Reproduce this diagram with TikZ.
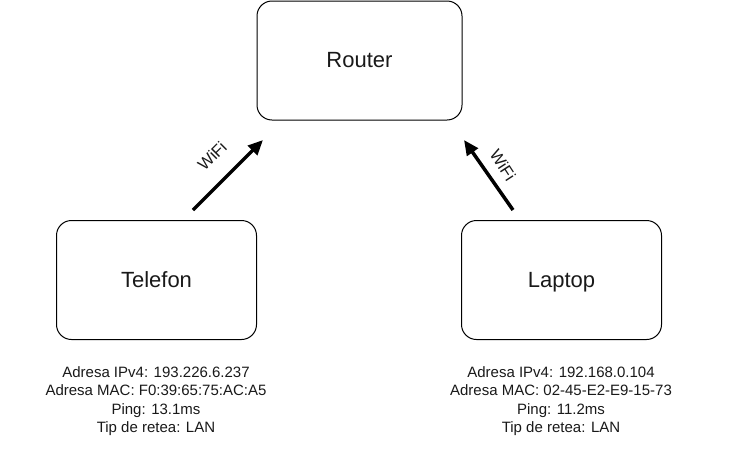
\documentclass[tikz,border=0pt]{standalone}
\usepackage{fontspec}
\setmainfont{Liberation Sans}
\usetikzlibrary{arrows.meta}
\begin{document}
\begin{tikzpicture}[x=1pt,y=-1pt,
  devbox/.style={draw=black, line width=1pt, rounded corners=15pt, minimum width=200pt, minimum height=119pt, inner sep=0pt, text height=16pt, text depth=2pt, font=\fontsize{22}{26}\selectfont, text=black!90},
  info/.style={align=center, font=\fontsize{15}{18.5}\selectfont, text=black!90, inner sep=0pt},
  link/.style={line width=3.5pt, -{Triangle[length=15pt,width=13pt]}},
  wifi/.style={font=\fontsize{16.5}{18}\selectfont, text=black!90, inner sep=0pt}]
\useasboundingbox (0,0) rectangle (742,461);
\node[devbox, minimum width=205pt] (router) at (359.5,60.5) {Router};
\node[devbox] (tel) at (156.5,280) {Telefon};
\node[devbox] (lap) at (561.5,280) {Laptop};
\node[info] (telinfo) at (156,401) {Adresa IPv4: 193.226.6.237\\Adresa MAC: F0:39:65:75:AC:A5\\Ping: 13.1ms\\Tip de retea: LAN};
\node[info] (lapinfo) at (561,401) {Adresa IPv4: 192.168.0.104\\Adresa MAC: 02-45-E2-E9-15-73\\Ping: 11.2ms\\Tip de retea: LAN};
\coordinate (t1) at (193,210);
\coordinate (h1) at (263,140);
\coordinate (t2) at (513,210);
\coordinate (h2) at (464,140);
\draw[link] (t1) -- (h1);
\draw[link] (t2) -- (h2);
\node[wifi, rotate=45] (w1) at (212,156) {WiFi};
\node[wifi, rotate=-57] (w2) at (503,165) {WiFi};
\end{tikzpicture}
\end{document}
